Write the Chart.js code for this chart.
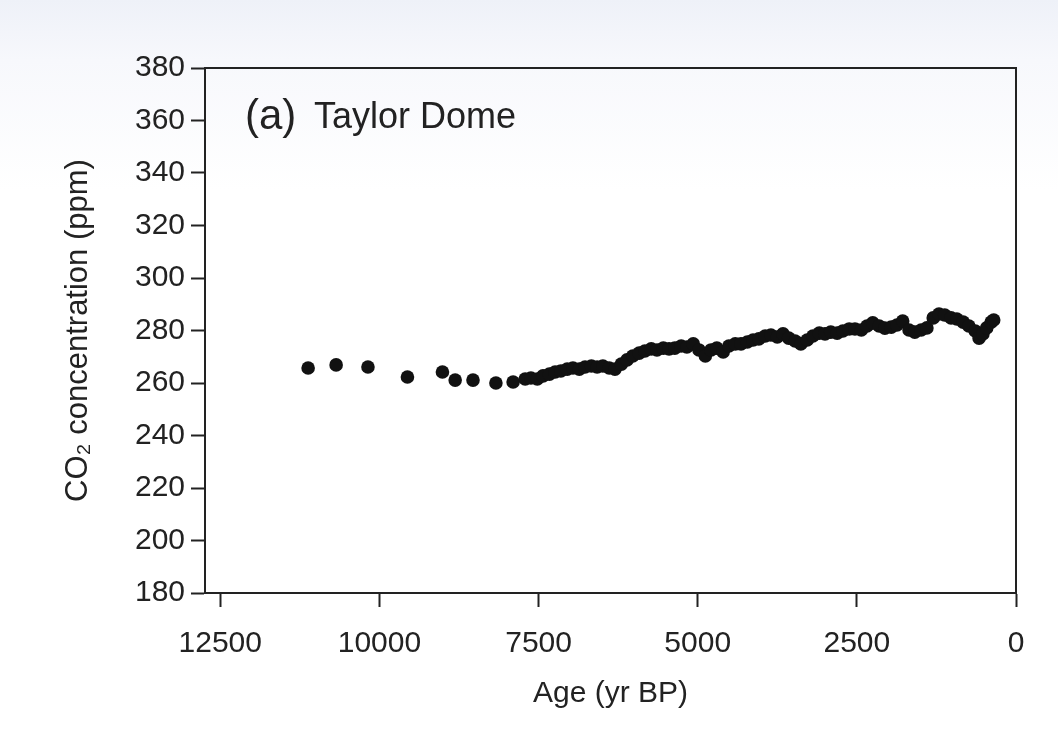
<!DOCTYPE html>
<html>
<head>
<meta charset="utf-8">
<script src="https://cdn.jsdelivr.net/npm/chart.js@4.4.1/dist/chart.umd.min.js"></script>
<style>
    html, body { margin: 0; padding: 0; }
    body { background: linear-gradient(to bottom, #eef1f8 0px, #f7f8fc 60px, #ffffff 190px); }
    #wrap { width: 1058px; height: 755px; }
</style>
</head>
<body>
<div id="wrap"><canvas id="co2-chart" width="1058" height="755"></canvas></div>
<script>
(function () {
    'use strict';

    // Taylor Dome CO2 record
    var AGE = [
        11120, 10680, 10180, 9560, 9010, 8810, 8530, 8170, 7900,
        7710, 7620, 7520, 7430, 7330, 7240, 7150, 7050, 6960, 6860,
        6770, 6670, 6580, 6490, 6390, 6300, 6200, 6110, 6020, 5920,
        5830, 5730, 5640, 5540, 5450, 5360, 5260, 5170, 5070, 4980,
        4880, 4790, 4700, 4600, 4510, 4410, 4320, 4220, 4130, 4040,
        3940, 3850, 3750, 3660, 3570, 3470, 3380, 3280, 3190, 3090,
        3000, 2910, 2810, 2720, 2620, 2530, 2430, 2340, 2250, 2150,
        2060, 1960, 1870, 1780, 1680, 1590, 1490, 1400, 1300, 1210,
        1120, 1020, 930, 830, 740, 640, 580, 520, 460, 390, 350
    ];
    var CO2 = [
        265.7, 266.9, 266.1, 262.3, 264.2, 261.1, 261.1, 260.0, 260.4,
        261.5, 261.9, 261.5, 262.7, 263.4, 264.2, 264.6, 265.3, 265.7, 265.3,
        266.1, 266.5, 266.1, 266.5, 265.7, 265.3, 267.2, 268.8, 270.3, 271.4,
        272.2, 273.0, 272.6, 273.3, 273.0, 273.3, 274.1, 273.7, 274.9, 272.6,
        270.3, 272.6, 273.3, 271.8, 274.1, 274.9, 274.9, 275.6, 276.4, 276.8,
        277.9, 278.3, 277.5, 278.7, 277.1, 276.0, 274.9, 276.4, 277.9, 279.0,
        278.7, 279.4, 279.0, 279.8, 280.6, 280.6, 280.2, 281.7, 282.9, 281.7,
        280.9, 281.3, 282.1, 283.6, 280.2, 279.4, 280.2, 281.0, 284.8, 286.3,
        285.9, 284.8, 284.4, 283.2, 281.7, 279.8, 277.1, 278.7, 281.0, 283.2, 284.0
    ];
    var X_TICKS = [12500, 10000, 7500, 5000, 2500, 0];
    var Y_TICKS = [180, 200, 220, 240, 260, 280, 300, 320, 340, 360, 380];
    var X_TITLE = 'Age (yr BP)';
    var Y_TITLE = 'CO\u2082 concentration (ppm)';
    var PANEL_LABEL = '(a)';
    var SITE_NAME = 'Taylor Dome';

    var INK = '#222222';
    var FONT = 'Liberation Sans, Arial, Helvetica, sans-serif';

    var points = AGE.map(function (a, i) {
        return { x: a, y: CO2[i] };
    });

    function setTicks(values) {
        return function (scale) {
            scale.ticks = values.map(function (v) {
                return { value: v };
            });
        };
    }

    function plainLabel(value) {
        return String(value);
    }

    // top and right edges of the box, plus the panel label
    var framePlugin = {
        id: 'frame',
        beforeDatasetsDraw: function (chart) {
            var ctx = chart.ctx;
            var area = chart.chartArea;
            ctx.save();
            ctx.strokeStyle = INK;
            ctx.lineWidth = 2;
            ctx.beginPath();
            ctx.moveTo(area.left, area.top);
            ctx.lineTo(area.right, area.top);
            ctx.lineTo(area.right, area.bottom);
            ctx.stroke();

            ctx.fillStyle = INK;
            ctx.textBaseline = 'alphabetic';
            ctx.textAlign = 'left';
            ctx.font = '42px ' + FONT;
            ctx.fillText(PANEL_LABEL, area.left + 40, area.top + 61);
            ctx.font = '36px ' + FONT;
            ctx.fillText(SITE_NAME, area.left + 109, area.top + 60);
            ctx.restore();
        }
    };

    var ctx = document.getElementById('co2-chart').getContext('2d');

    new Chart(ctx, {
        type: 'scatter',
        data: {
            datasets: [
                {
                    label: 'Taylor Dome',
                    data: points,
                    backgroundColor: '#111111',
                    borderWidth: 0,
                    pointRadius: 6.8,
                    pointHoverRadius: 6.8,
                },
            ],
        },
        options: {
            responsive: false,
            animation: false,
            devicePixelRatio: 1,
            layout: { padding: { top: 68, right: 42, left: 0, bottom: 0 } },
            plugins: {
                legend: { display: false },
                tooltip: { enabled: false },
            },
            scales: {
                x: {
                    type: 'linear',
                    reverse: true,
                    min: 0,
                    max: 12740,
                    afterBuildTicks: setTicks(X_TICKS),
                    afterFit: function (scale) {
                        scale.height = 162;
                    },
                    border: { color: INK, width: 2 },
                    grid: {
                        drawOnChartArea: false,
                        drawTicks: true,
                        tickLength: 14,
                        tickWidth: 2,
                        tickColor: INK,
                    },
                    ticks: {
                        color: INK,
                        padding: 19,
                        maxRotation: 0,
                        callback: plainLabel,
                        font: { family: FONT, size: 30 },
                    },
                    title: {
                        display: true,
                        text: X_TITLE,
                        color: INK,
                        font: { family: FONT, size: 30 },
                        padding: { top: 0, bottom: 43 },
                    },
                },
                y: {
                    min: 180,
                    max: 380,
                    afterBuildTicks: setTicks(Y_TICKS),
                    afterFit: function (scale) {
                        scale.width = 205;
                    },
                    border: { color: INK, width: 2 },
                    grid: {
                        drawOnChartArea: false,
                        drawTicks: true,
                        tickLength: 14,
                        tickWidth: 2,
                        tickColor: INK,
                    },
                    ticks: {
                        color: INK,
                        padding: 6,
                        callback: plainLabel,
                        font: { family: FONT, size: 30 },
                    },
                    title: {
                        display: true,
                        text: Y_TITLE,
                        color: INK,
                        font: { family: FONT, size: 31 },
                        padding: { top: 60, bottom: 0 },
                    },
                },
            },
        },
        plugins: [framePlugin],
    });
})();
</script>
</body>
</html>
